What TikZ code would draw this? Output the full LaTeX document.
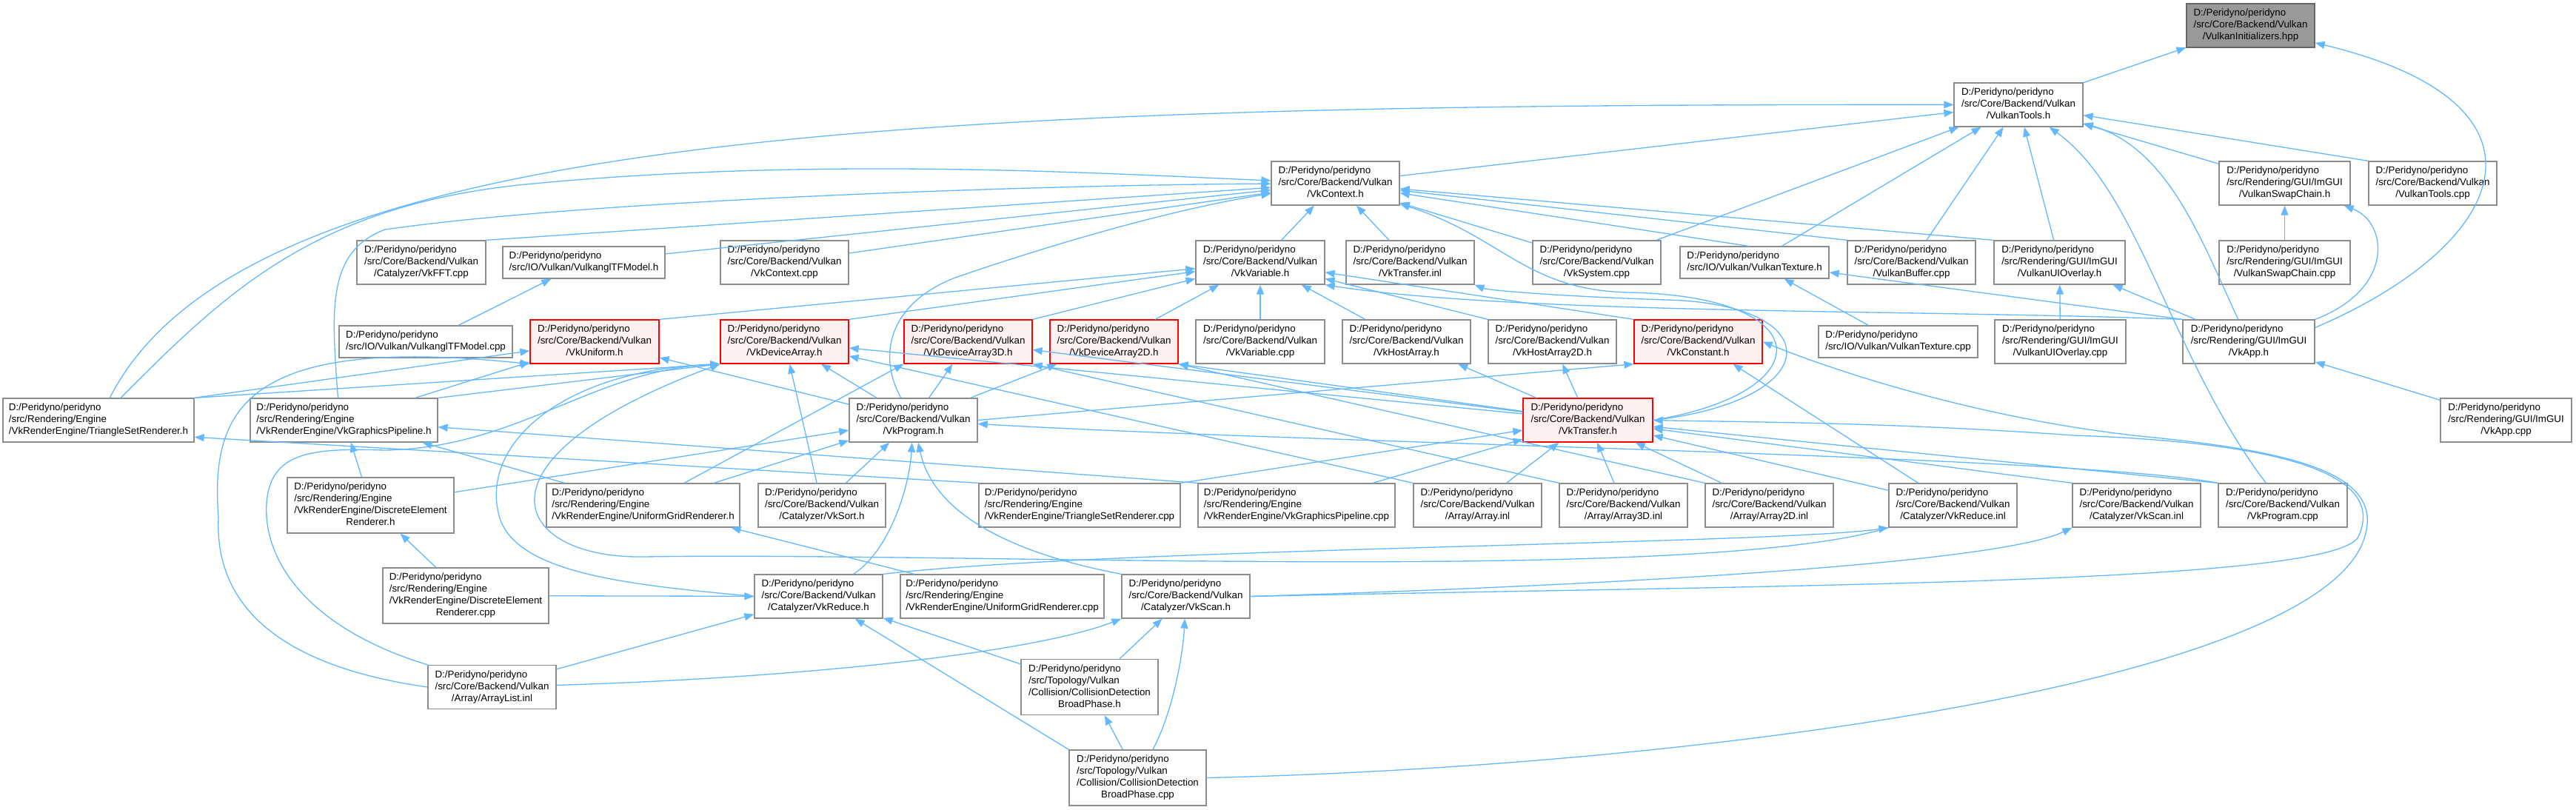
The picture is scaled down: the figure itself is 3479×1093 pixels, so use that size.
\documentclass[tikz,border=0pt]{standalone}
\usepackage{fontspec}
\setmainfont{Liberation Sans}
\usetikzlibrary{arrows.meta}

\definecolor{edgeblue}{HTML}{63B8FF}
\definecolor{boxgray}{HTML}{8C8C8C}
\definecolor{redfill}{HTML}{FFF0F0}
\definecolor{rootfill}{HTML}{999999}
\definecolor{rootline}{HTML}{666666}

\newcommand{\docfont}{\fontsize{7.6pt}{9.1pt}\selectfont}
\newcommand{\pathlabel}[2]{\begin{tabular}{@{}l@{}}#1\\\multicolumn{1}{@{}c@{}}{#2}\end{tabular}}

\tikzstyle{filenode} = [
    rectangle,
    draw=boxgray,
    fill=white,
    line width=0.75pt,
    inner sep=0pt,
    minimum width=3.46cm,
    minimum height=1.18cm,
    font=\docfont
]
\tikzstyle{rednode} = [filenode, draw=red, fill=redfill]
\tikzstyle{rootnode} = [filenode, draw=rootline, fill=rootfill]
\tikzstyle{twoline} = [minimum height=0.86cm]
\tikzstyle{fourline} = [minimum height=1.5cm]
\tikzstyle{incl} = [draw=edgeblue, line width=0.75pt, ->, >={Triangle[length=0.26cm, width=0.2cm]}]

\begin{document}
\begin{tikzpicture}[x=0.02cm, y=-0.02cm]

\useasboundingbox (0,0) rectangle (3479,1093);

\node (vi) [rootnode] at (3039.5,34.5)
{\pathlabel{D:/Peridyno/peridyno\\/src/Core/Backend/Vulkan}{/VulkanInitializers.hpp}};

\node (vtools) [filenode, minimum width=3.48cm] at (2726,141.5)
{\pathlabel{D:/Peridyno/peridyno\\/src/Core/Backend/Vulkan}{/VulkanTools.h}};

\node (vkctx) [filenode] at (1803.5,247.5)
{\pathlabel{D:/Peridyno/peridyno\\/src/Core/Backend/Vulkan}{/VkContext.h}};
\node (vswap) [filenode, minimum width=3.54cm] at (3085.5,247.5)
{\pathlabel{D:/Peridyno/peridyno\\/src/Rendering/GUI/ImGUI}{/VulkanSwapChain.h}};
\node (vtoolscpp) [filenode] at (3285.5,247.5)
{\pathlabel{D:/Peridyno/peridyno\\/src/Core/Backend/Vulkan}{/VulkanTools.cpp}};

\node (vkfft) [filenode, minimum width=3.48cm] at (569,354.5)
{\pathlabel{D:/Peridyno/peridyno\\/src/Core/Backend/Vulkan}{/Catalyzer/VkFFT.cpp}};
\node (gltfh) [filenode, twoline, minimum width=4.38cm] at (788.5,354.5)
{\pathlabel{D:/Peridyno/peridyno}{/src/IO/Vulkan/VulkanglTFModel.h}};
\node (vkctxcpp) [filenode] at (1059.5,354.5)
{\pathlabel{D:/Peridyno/peridyno\\/src/Core/Backend/Vulkan}{/VkContext.cpp}};
\node (vkvar) [filenode, minimum width=3.48cm] at (1702,354.5)
{\pathlabel{D:/Peridyno/peridyno\\/src/Core/Backend/Vulkan}{/VkVariable.h}};
\node (vktrinl) [filenode] at (1904.5,354.5)
{\pathlabel{D:/Peridyno/peridyno\\/src/Core/Backend/Vulkan}{/VkTransfer.inl}};
\node (vksys) [filenode] at (2156.5,354.5)
{\pathlabel{D:/Peridyno/peridyno\\/src/Core/Backend/Vulkan}{/VkSystem.cpp}};
\node (vtexh) [filenode, twoline, minimum width=4.02cm] at (2369.5,354.5)
{\pathlabel{D:/Peridyno/peridyno}{/src/IO/Vulkan/VulkanTexture.h}};
\node (vbuf) [filenode] at (2581.5,354.5)
{\pathlabel{D:/Peridyno/peridyno\\/src/Core/Backend/Vulkan}{/VulkanBuffer.cpp}};
\node (uioh) [filenode, minimum width=3.54cm] at (2781.5,354.5)
{\pathlabel{D:/Peridyno/peridyno\\/src/Rendering/GUI/ImGUI}{/VulkanUIOverlay.h}};
\node (swapcpp) [filenode, minimum width=3.54cm] at (3085.5,354.5)
{\pathlabel{D:/Peridyno/peridyno\\/src/Rendering/GUI/ImGUI}{/VulkanSwapChain.cpp}};

\node (gltfcpp) [filenode, twoline, minimum width=4.68cm] at (575,461.5)
{\pathlabel{D:/Peridyno/peridyno}{/src/IO/Vulkan/VulkanglTFModel.cpp}};
\node (vkuni) [rednode, minimum width=3.48cm] at (803,461.5)
{\pathlabel{D:/Peridyno/peridyno\\/src/Core/Backend/Vulkan}{/VkUniform.h}};
\node (vkda) [rednode] at (1059.5,461.5)
{\pathlabel{D:/Peridyno/peridyno\\/src/Core/Backend/Vulkan}{/VkDeviceArray.h}};
\node (vkda3) [rednode] at (1307.5,461.5)
{\pathlabel{D:/Peridyno/peridyno\\/src/Core/Backend/Vulkan}{/VkDeviceArray3D.h}};
\node (vkda2) [rednode] at (1504.5,461.5)
{\pathlabel{D:/Peridyno/peridyno\\/src/Core/Backend/Vulkan}{/VkDeviceArray2D.h}};
\node (vkvarcpp) [filenode, minimum width=3.48cm] at (1702,461.5)
{\pathlabel{D:/Peridyno/peridyno\\/src/Core/Backend/Vulkan}{/VkVariable.cpp}};
\node (vkha) [filenode] at (1899.5,461.5)
{\pathlabel{D:/Peridyno/peridyno\\/src/Core/Backend/Vulkan}{/VkHostArray.h}};
\node (vkha2) [filenode] at (2096.5,461.5)
{\pathlabel{D:/Peridyno/peridyno\\/src/Core/Backend/Vulkan}{/VkHostArray2D.h}};
\node (vkconst) [rednode] at (2293.5,461.5)
{\pathlabel{D:/Peridyno/peridyno\\/src/Core/Backend/Vulkan}{/VkConstant.h}};
\node (vtexcpp) [filenode, twoline, minimum width=4.3cm] at (2563.5,461.5)
{\pathlabel{D:/Peridyno/peridyno}{/src/IO/Vulkan/VulkanTexture.cpp}};
\node (uiocpp) [filenode, minimum width=3.54cm] at (2782.5,461.5)
{\pathlabel{D:/Peridyno/peridyno\\/src/Rendering/GUI/ImGUI}{/VulkanUIOverlay.cpp}};
\node (vkapp) [filenode, minimum width=3.56cm] at (3037,461.5)
{\pathlabel{D:/Peridyno/peridyno\\/src/Rendering/GUI/ImGUI}{/VkApp.h}};

\node (tsrh) [filenode, minimum width=5.16cm] at (133,567.5)
{\pathlabel{D:/Peridyno/peridyno\\/src/Rendering/Engine}{/VkRenderEngine/TriangleSetRenderer.h}};
\node (gpiph) [filenode, minimum width=5.06cm] at (464.5,567.5)
{\pathlabel{D:/Peridyno/peridyno\\/src/Rendering/Engine}{/VkRenderEngine/VkGraphicsPipeline.h}};
\node (vkprog) [filenode] at (1233.5,567.5)
{\pathlabel{D:/Peridyno/peridyno\\/src/Core/Backend/Vulkan}{/VkProgram.h}};
\node (vktr) [rednode, minimum width=3.5cm] at (2144.5,567.5)
{\pathlabel{D:/Peridyno/peridyno\\/src/Core/Backend/Vulkan}{/VkTransfer.h}};
\node (appcpp) [filenode, minimum width=3.54cm] at (3384.5,567.5)
{\pathlabel{D:/Peridyno/peridyno\\/src/Rendering/GUI/ImGUI}{/VkApp.cpp}};

\node (derh) [filenode, fourline, minimum width=4.5cm] at (500.5,682.5)
{\pathlabel{D:/Peridyno/peridyno\\/src/Rendering/Engine\\/VkRenderEngine/DiscreteElement}{Renderer.h}};
\node (ugrh) [filenode, minimum width=5.22cm] at (868.5,682.5)
{\pathlabel{D:/Peridyno/peridyno\\/src/Rendering/Engine}{/VkRenderEngine/UniformGridRenderer.h}};
\node (vksort) [filenode, minimum width=3.44cm] at (1110,682.5)
{\pathlabel{D:/Peridyno/peridyno\\/src/Core/Backend/Vulkan}{/Catalyzer/VkSort.h}};
\node (tsrcpp) [filenode, minimum width=5.44cm] at (1458,682.5)
{\pathlabel{D:/Peridyno/peridyno\\/src/Rendering/Engine}{/VkRenderEngine/TriangleSetRenderer.cpp}};
\node (gpipcpp) [filenode, minimum width=5.32cm] at (1751,682.5)
{\pathlabel{D:/Peridyno/peridyno\\/src/Rendering/Engine}{/VkRenderEngine/VkGraphicsPipeline.cpp}};
\node (arrinl) [filenode] at (1995.5,682.5)
{\pathlabel{D:/Peridyno/peridyno\\/src/Core/Backend/Vulkan}{/Array/Array.inl}};
\node (arr3inl) [filenode] at (2192.5,682.5)
{\pathlabel{D:/Peridyno/peridyno\\/src/Core/Backend/Vulkan}{/Array/Array3D.inl}};
\node (arr2inl) [filenode] at (2389.5,682.5)
{\pathlabel{D:/Peridyno/peridyno\\/src/Core/Backend/Vulkan}{/Array/Array2D.inl}};
\node (redinl) [filenode] at (2637.5,682.5)
{\pathlabel{D:/Peridyno/peridyno\\/src/Core/Backend/Vulkan}{/Catalyzer/VkReduce.inl}};
\node (scaninl) [filenode] at (2885.5,682.5)
{\pathlabel{D:/Peridyno/peridyno\\/src/Core/Backend/Vulkan}{/Catalyzer/VkScan.inl}};
\node (progcpp) [filenode, minimum width=3.48cm] at (3083,682.5)
{\pathlabel{D:/Peridyno/peridyno\\/src/Core/Backend/Vulkan}{/VkProgram.cpp}};

\node (dercpp) [filenode, fourline, minimum width=4.48cm] at (629,804.5)
{\pathlabel{D:/Peridyno/peridyno\\/src/Rendering/Engine\\/VkRenderEngine/DiscreteElement}{Renderer.cpp}};
\node (reduceh) [filenode] at (1105.5,805.5)
{\pathlabel{D:/Peridyno/peridyno\\/src/Core/Backend/Vulkan}{/Catalyzer/VkReduce.h}};
\node (ugrcpp) [filenode, minimum width=5.5cm] at (1353.5,805.5)
{\pathlabel{D:/Peridyno/peridyno\\/src/Rendering/Engine}{/VkRenderEngine/UniformGridRenderer.cpp}};
\node (scanh) [filenode] at (1601.5,805.5)
{\pathlabel{D:/Peridyno/peridyno\\/src/Core/Backend/Vulkan}{/Catalyzer/VkScan.h}};

\node (arrlist) [filenode] at (664.5,928)
{\pathlabel{D:/Peridyno/peridyno\\/src/Core/Backend/Vulkan}{/Array/ArrayList.inl}};
\node (bph) [filenode, fourline, minimum width=3.7cm] at (1471.5,928)
{\pathlabel{D:/Peridyno/peridyno\\/src/Topology/Vulkan\\/Collision/CollisionDetection}{BroadPhase.h}};
\node (bpcpp) [filenode, fourline, minimum width=3.7cm] at (1536.5,1050.5)
{\pathlabel{D:/Peridyno/peridyno\\/src/Topology/Vulkan\\/Collision/CollisionDetection}{BroadPhase.cpp}};

\draw [incl] (vtools) -- (vi);
\draw [incl] (vkapp.12) .. controls (3390,330) and (3470,140) .. (vi.-15);

\draw [incl] (vkctx) -- (vtools);
\draw [incl] (vswap) -- (vtools);
\draw [incl] (vtoolscpp.north west) -- (vtools);
\draw [incl] (vksys) -- (vtools);
\draw [incl] (vtexh) -- (vtools);
\draw [incl] (vbuf) -- (vtools);
\draw [incl] (uioh) -- (vtools);
\draw [incl] (vkapp) .. controls (2975,330) and (2930,200) .. (vtools);
\draw [incl] (progcpp) .. controls (2930,480) and (2890,260) .. (vtools);
\draw [incl] (tsrh) .. controls (330,180) and (1200,140) .. (vtools);

\draw [incl] (tsrh) .. controls (300,400) and (420,280) .. (700,250) .. controls (1100,210) and (1500,235) .. (vkctx);
\draw [incl] (gpiph.105) .. controls (448,420) and (440,340) .. (520,310) .. controls (800,270) and (1400,250) .. (vkctx);
\draw [incl] (vkfft.north east) -- (vkctx);
\draw [incl] (gltfh) -- (vkctx);
\draw [incl] (vkctxcpp) -- (vkctx);
\draw [incl] (vkprog) .. controls (1185,480) and (1200,410) .. (1290,375) .. controls (1450,320) and (1600,280) .. (vkctx);
\draw [incl] (vkvar) -- (vkctx);
\draw [incl] (vktrinl) -- (vkctx);
\draw [incl] (vksys) -- (vkctx);
\draw [incl] (vktr.east) .. controls (2460,530) and (2460,400) .. (2200,395) .. controls (2060,392) and (2030,320) .. (vkctx);
\draw [incl] (vtexh.110) -- (vkctx);
\draw [incl] (vbuf.north west) -- (vkctx);
\draw [incl] (uioh.north west) -- (vkctx);

\draw [incl] (swapcpp) -- (vswap);
\draw [incl] (vkapp.north east) .. controls (3235,390) and (3225,300) .. (vswap);
\draw [incl] (uiocpp) -- (uioh);
\draw [incl] (vkapp) -- (uioh);
\draw [incl] (vtexcpp) -- (vtexh);
\draw [incl] (vkapp.north west) -- (vtexh);
\draw [incl] (gltfcpp) -- (gltfh);
\draw [incl] (appcpp) -- (vkapp);

\draw [incl] (vkuni.north east) -- (vkvar);
\draw [incl] (vkda.north east) -- (vkvar);
\draw [incl] (vkda3.north east) -- (vkvar);
\draw [incl] (vkda2) -- (vkvar);
\draw [incl] (vkvarcpp) -- (vkvar);
\draw [incl] (vkha) -- (vkvar);
\draw [incl] (vkha2.north west) -- (vkvar);
\draw [incl] (vkconst.north west) -- (vkvar);
\draw [incl] (vkapp.north west) .. controls (2600,418) and (2050,425) .. (vkvar.south east);
\draw [incl] (vktr.east) .. controls (2470,540) and (2470,410) .. (2250,405) .. controls (2100,400) and (2010,392) .. (vktrinl.south east);

\draw [incl] (tsrh.north east) -- (vkuni);
\draw [incl] (gpiph) -- (vkuni);
\draw [incl] (vkprog) -- (vkuni);
\draw [incl] (arrlist.west) .. controls (380,900) and (290,820) .. (295,700) .. controls (285,560) and (320,450) .. (vkuni.south west);

\draw [incl] (tsrh.north east) -- (vkda.south west);
\draw [incl] (gpiph.north east) -- (vkda.south west);
\draw [incl] (vksort) -- (vkda);
\draw [incl] (vkprog) -- (vkda);
\draw [incl] (vktr) -- (vkda);
\draw [incl] (arrinl.north west) -- (vkda);
\draw [incl] (arrlist.north west) .. controls (420,850) and (355,760) .. (360,680) .. controls (365,610) and (420,605) .. (520,608) .. controls (700,605) and (800,500) .. (vkda.south west);
\draw [incl] (reduceh.west) .. controls (850,790) and (700,775) .. (675,700) .. controls (645,600) and (760,500) .. (vkda.south west);
\draw [incl] (redinl.south west) .. controls (2300,790) and (1300,745) .. (870,752) .. controls (690,755) and (625,620) .. (vkda.south west);

\draw [incl] (ugrh) -- (vkda3.south west);
\draw [incl] (vkprog) -- (vkda3);
\draw [incl] (vktr) -- (vkda3);
\draw [incl] (arr3inl.north west) -- (vkda3.south east);
\draw [incl] (vkprog) -- (vkda2);
\draw [incl] (vktr) -- (vkda2.south east);
\draw [incl] (arr2inl.north west) -- (vkda2.south east);
\draw [incl] (vktr) -- (vkha);
\draw [incl] (vktr) -- (vkha2);

\draw [incl] (vkprog.east) -- (vkconst.south west);
\draw [incl] (redinl) -- (vkconst);
\draw [incl] (bpcpp.east) .. controls (2300,1035) and (3150,920) .. (3195,720) .. controls (3215,640) and (3100,610) .. (2900,590) .. controls (2700,570) and (2500,510) .. (vkconst.east);

\draw [incl] (derh) -- (vkprog);
\draw [incl] (ugrh) -- (vkprog);
\draw [incl] (vksort) -- (vkprog);
\draw [incl] (reduceh) .. controls (1200,745) and (1228,660) .. (vkprog);
\draw [incl] (scanh.north west) .. controls (1380,750) and (1262,700) .. (vkprog);
\draw [incl] (progcpp.north west) .. controls (2800,615) and (1800,600) .. (vkprog);

\draw [incl] (derh) -- (gpiph);
\draw [incl] (ugrh) -- (gpiph);
\draw [incl] (gpipcpp.north west) -- (gpiph);
\draw [incl] (tsrcpp.north west) -- (tsrh.-10);
\draw [incl] (dercpp) -- (derh);
\draw [incl] (ugrcpp) -- (ugrh);

\draw [incl] (arrinl) -- (vktr);
\draw [incl] (arr3inl) -- (vktr);
\draw [incl] (arr2inl) -- (vktr);
\draw [incl] (gpipcpp) -- (vktr);
\draw [incl] (tsrcpp.north east) -- (vktr);
\draw [incl] (redinl) -- (vktr);
\draw [incl] (scaninl.north west) -- (vktr);
\draw [incl] (progcpp.north west) -- (vktr);
\draw [incl] (scanh.east) .. controls (2400,790) and (3150,790) .. (3185,725) .. controls (3215,660) and (3150,600) .. (2800,588) .. controls (2550,570) and (2350,570) .. (vktr.east);

\draw [incl] (reduceh.north east) .. controls (1500,740) and (2400,735) .. (redinl.south west);
\draw [incl] (scanh.east) .. controls (2200,790) and (2700,760) .. (scaninl.south west);

\draw [incl] (arrlist) -- (reduceh);
\draw [incl] (arrlist) .. controls (1100,915) and (1400,880) .. (scanh.south west);
\draw [incl] (dercpp) -- (reduceh);
\draw [incl] (bph) -- (reduceh);
\draw [incl] (bph) -- (scanh);
\draw [incl] (bpcpp) -- (bph);
\draw [incl] (bpcpp.north west) -- (reduceh);
\draw [incl] (bpcpp) .. controls (1585,960) and (1598,880) .. (scanh);

\end{tikzpicture}
\end{document}
